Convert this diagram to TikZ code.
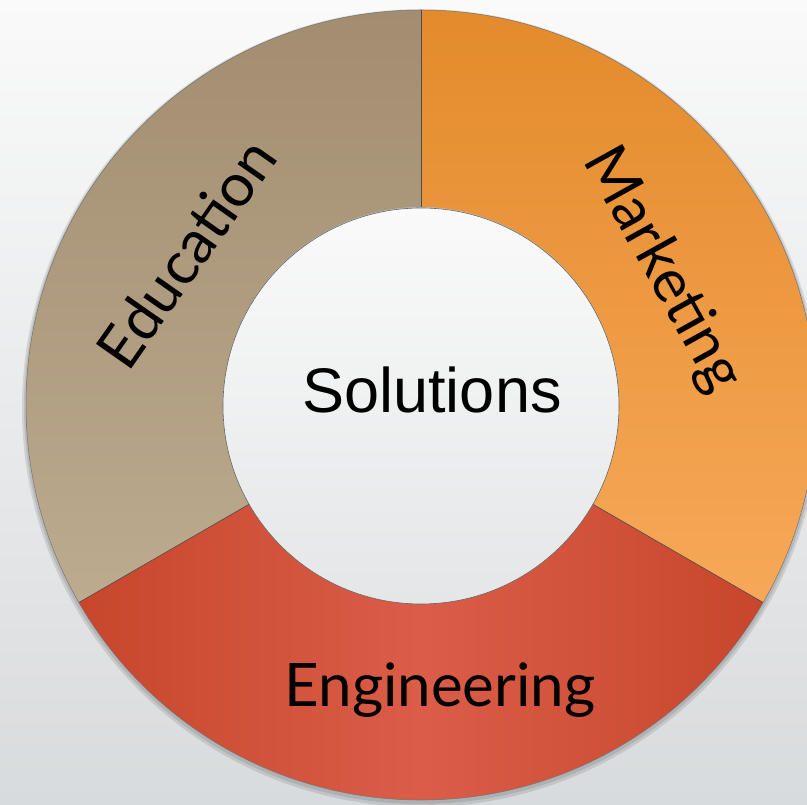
\documentclass[tikz,border=0pt]{standalone}
\usepackage{fontspec}
\setmainfont{Liberation Sans}
\newfontfamily\segfont{Lato}
\definecolor{bgtop}{RGB}{250,250,250}
\definecolor{bgbot}{RGB}{216,219,221}
\definecolor{eduTop}{RGB}{163,141,112}
\definecolor{eduBot}{RGB}{188,171,143}
\definecolor{mktTop}{RGB}{227,139,44}
\definecolor{mktBot}{RGB}{247,168,88}
\definecolor{engDark}{RGB}{199,70,44}
\definecolor{engLight}{RGB}{219,93,72}
\definecolor{innTop}{RGB}{250,250,250}
\definecolor{innBot}{RGB}{228,230,231}
\tikzset{
  seglabel/.style={font=\segfont\fontsize{60}{62}\selectfont, text=black, inner sep=0pt},
  centerlabel/.style={font=\fontsize{63}{66}\selectfont, text=black, inner sep=0pt},
  segedge/.style={draw=black!70, line width=0.6pt}
}
\begin{document}
\begin{tikzpicture}[x=1pt,y=1pt]
\useasboundingbox (0,0) rectangle (807,805);
\shade[top color=bgtop, bottom color=bgbot] (0,0) rectangle (807,805);
\begin{scope}
\clip (0,0) rectangle (807,805);
\coordinate (C) at (421,400);
% soft shadow
\fill[black,opacity=0.10] (421,397) circle (399);
\fill[black,opacity=0.10] (421,398) circle (397);
% Education
\shade[top color=eduTop, bottom color=eduBot]
  ([shift={(C)}]90:395) arc[start angle=90,end angle=210,radius=395pt]
  -- ([shift={(C)}]210:198) arc[start angle=210,end angle=90,radius=198pt] -- cycle;
% Marketing
\shade[top color=mktTop, bottom color=mktBot]
  ([shift={(C)}]90:395) arc[start angle=90,end angle=-30,radius=395pt]
  -- ([shift={(C)}]-30:198) arc[start angle=-30,end angle=90,radius=198pt] -- cycle;
% Engineering
\shade[left color=engDark, right color=engDark, middle color=engLight]
  ([shift={(C)}]210:395) arc[start angle=210,end angle=330,radius=395pt]
  -- ([shift={(C)}]330:198) arc[start angle=330,end angle=210,radius=198pt] -- cycle;
% separators
\draw[segedge] ([shift={(C)}]90:198) -- ([shift={(C)}]90:395);
\draw[segedge] ([shift={(C)}]210:198) -- ([shift={(C)}]210:395);
\draw[segedge] ([shift={(C)}]330:198) -- ([shift={(C)}]330:395);
\draw[draw=black!55, line width=0.5pt] (C) circle (395);
% inner circle
\shade[top color=innTop, bottom color=innBot, draw=black!60, line width=0.6pt] (421,399) circle (198);
\end{scope}
\node[centerlabel, anchor=base] (sol) at (432,392) {Solutions};
\node[seglabel, anchor=base] (eng) at (440,98) {Engineering};
\node[seglabel, rotate=55] (edu) at (186,552) {Education};
\node[seglabel, rotate=-61] (mkt) at (662,535) {Marketing};
\end{tikzpicture}
\end{document}
